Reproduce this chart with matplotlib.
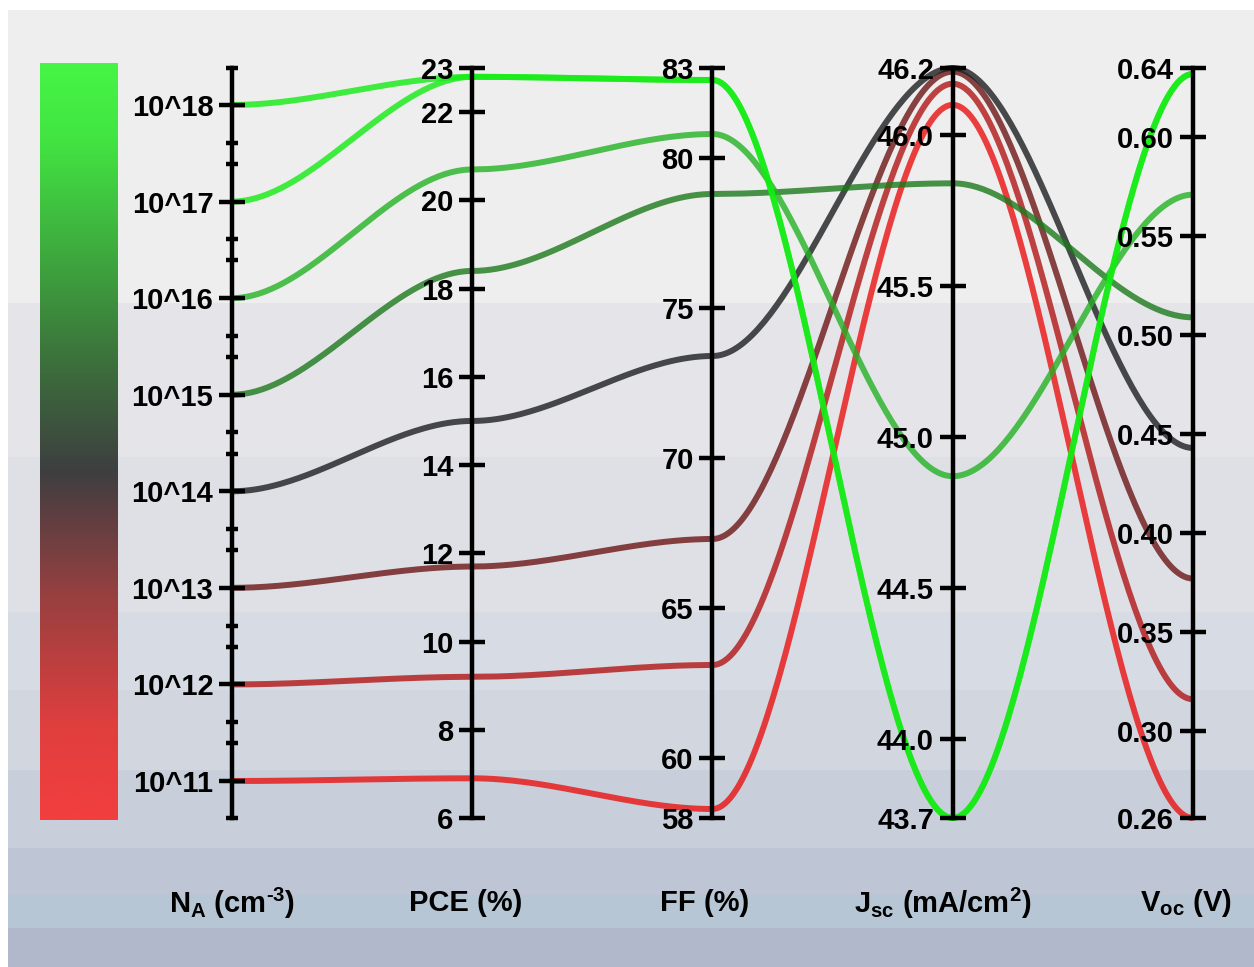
import numpy as np
import matplotlib
matplotlib.use('Agg')
import matplotlib.pyplot as plt
from matplotlib.colors import LinearSegmentedColormap

plt.rcParams['font.family'] = ['Liberation Sans', 'DejaVu Sans']
plt.rcParams['font.weight'] = 'bold'
plt.rcParams['mathtext.fontset'] = 'custom'
plt.rcParams['mathtext.rm'] = 'Liberation Sans:bold'
plt.rcParams['mathtext.bf'] = 'Liberation Sans:bold'
plt.rcParams['mathtext.it'] = 'Liberation Sans:bold'
plt.rcParams['mathtext.default'] = 'bf'

# data: one row per doping level (log10 of N_A)
na_exp = [11, 12, 13, 14, 15, 16, 17, 18]
pce = [6.9, 9.2, 11.7, 15.0, 18.4, 20.7, 22.8, 22.8]
ff = [58.3, 63.1, 67.3, 73.4, 78.8, 80.8, 82.6, 82.6]
jsc = [46.10, 46.17, 46.21, 46.222, 45.84, 44.87, 43.738, 43.738]
voc = [0.256, 0.316, 0.377, 0.443, 0.509, 0.571, 0.632, 0.632]

axis_names = ['N$_A$ (cm$^{\\text{-3}}$)', 'PCE (%)', 'FF (%)',
              'J$_{sc}$ (mA/cm$^2$)', 'V$_{oc}$ (V)']
ranges = [(10.617, 18.383), (6, 23), (58, 83), (43.738, 46.222), (0.256, 0.635)]
ticks = [
    [11, 12, 13, 14, 15, 16, 17, 18],
    [6, 8, 10, 12, 14, 16, 18, 20, 22, 23],
    [58, 60, 65, 70, 75, 80, 83],
    [43.738, 44.0, 44.5, 45.0, 45.5, 46.0, 46.222],
    [0.256, 0.30, 0.35, 0.40, 0.45, 0.50, 0.55, 0.60, 0.635],
]
tick_labels = [
    ['10^%d' % k for k in ticks[0]],
    ['%d' % v for v in ticks[1]],
    ['%d' % v for v in ticks[2]],
    ['%.1f' % v for v in ticks[3]],
    ['%.2f' % v for v in ticks[4]],
]

line_colors = ['#ea1212', '#b21616', '#6d1616', '#1c1e21',
               '#1c7a1c', '#24b224', '#14eb14', '#14eb14']

fig = plt.figure(figsize=(12.54, 9.67), dpi=100)
fig.patch.set_facecolor('white')

# background bands
bg_edges = [10, 303, 457, 612, 690, 770, 848, 895, 928, 967]
bg_cols = [(238, 238, 238), (229, 229, 233), (222, 224, 230), (215, 219, 227),
           (209, 214, 223), (200, 207, 218), (190, 198, 213), (183, 198, 212),
           (178, 184, 203)]
rows = []
for i in range(len(bg_cols)):
    rows += [bg_cols[i]] * (bg_edges[i + 1] - bg_edges[i])
bg_img = np.array(rows, dtype=float)[:, None, :] / 255.0
bg = fig.add_axes([8 / 1254, 0, 1 - 8 / 1254, 1 - 10 / 967], zorder=-10)
bg.imshow(bg_img, aspect='auto', interpolation='nearest')
bg.axis('off')

L, R = 232 / 1254, 1193 / 1254
B, T = 1 - 818 / 967, 1 - 68 / 967

# curves
host = fig.add_axes([L, B, R - L, T - B])
host.set_xlim(0, 4)
host.set_ylim(0, 1)
host.axis('off')
host.patch.set_visible(False)

cols = [na_exp, pce, ff, jsc, voc]
t = np.linspace(0, 1, 80)
s = 3 * t ** 2 - 2 * t ** 3
for j in range(len(na_exp)):
    yn = [(cols[i][j] - ranges[i][0]) / (ranges[i][1] - ranges[i][0]) for i in range(5)]
    xs, ys = [], []
    for i in range(4):
        xs.append(i + t)
        ys.append(yn[i] + (yn[i + 1] - yn[i]) * s)
    host.plot(np.concatenate(xs), np.concatenate(ys), color=line_colors[j],
              lw=4.3, alpha=0.8, clip_on=False, solid_capstyle='butt')

# parallel axes
for i in range(5):
    ax = fig.add_axes([L + i * (R - L) / 4, B, 1e-4, T - B])
    ax.patch.set_visible(False)
    for sp in ['top', 'right', 'bottom']:
        ax.spines[sp].set_visible(False)
    ax.spines['left'].set_linewidth(3.2)
    ax.set_ylim(ranges[i])
    ax.set_xticks([])
    ax.set_yticks(ticks[i])
    ax.set_yticklabels(tick_labels[i], fontsize=21, fontweight='bold')
    ax.tick_params(axis='y', which='major', direction='inout', length=19,
                   width=3.2, pad=4)
    if i == 0:
        minor = [ranges[0][0], ranges[0][1]]
        for k in range(11, 18):
            minor += [k + 0.39, k + 0.61]
        ax.set_yticks(minor, minor=True)
        ax.tick_params(axis='y', which='minor', direction='inout', length=9,
                       width=3.2)

# axis titles
title_x = [232, 466, 705, 943, 1186]
for i in range(5):
    fig.text(title_x[i] / 1254, 1 - 903 / 967, axis_names[i], fontsize=21,
             fontweight='bold', ha='center', va='center')

# colour bar
cbar_cmap = LinearSegmentedColormap.from_list('na', [
    (0.0, (242 / 255, 62 / 255, 62 / 255)),
    (0.12, (225 / 255, 62 / 255, 62 / 255)),
    (0.30, (150 / 255, 64 / 255, 64 / 255)),
    (0.46, (62 / 255, 62 / 255, 64 / 255)),
    (0.60, (60 / 255, 110 / 255, 60 / 255)),
    (0.75, (62 / 255, 170 / 255, 62 / 255)),
    (0.90, (66 / 255, 228 / 255, 66 / 255)),
    (1.0, (70 / 255, 245 / 255, 70 / 255)),
])
cax = fig.add_axes([40 / 1254, 1 - 820 / 967, 78 / 1254, 757 / 967])
cax.imshow(np.linspace(0, 1, 256)[:, None], cmap=cbar_cmap, aspect='auto',
           origin='lower')
cax.axis('off')

fig.savefig('out.png', dpi=100)
